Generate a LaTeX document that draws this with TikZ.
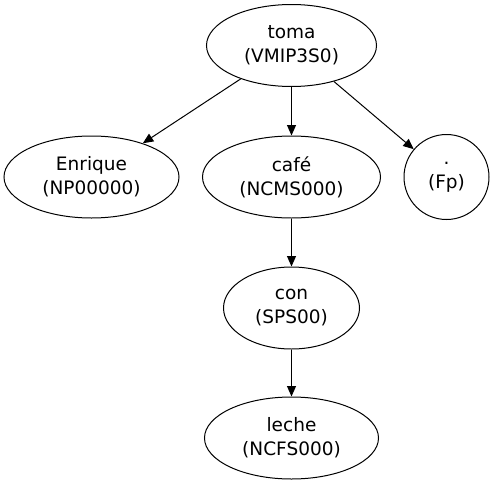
\documentclass[tikz,border=0pt]{standalone}
\usepackage{fontspec}
\setmainfont{DejaVu Sans}
\usetikzlibrary{positioning, arrows.meta, shapes.geometric}

\begin{document}
\begin{tikzpicture}[
  x=1pt, y=-1pt,
  font=\fontsize{18.5}{24}\selectfont,
  node distance=130pt, on grid,
  tok/.style={ellipse, draw, line width=1pt, inner sep=0pt, align=center},
  word/.style={tok, minimum width=172pt, minimum height=82pt},
  arr/.style={-{Triangle[length=10.5pt, width=9pt]}, line width=1pt}
]
\useasboundingbox (0,0) rectangle (493,485);
% ----- root -----
\node[word, minimum width=170pt] (toma) at (291.5,45.5) {toma\\(VMIP3S0)};
% ----- dependents -----
\node[word, below=131.5pt of toma, minimum width=178pt] (cafe) {café\\(NCMS000)};
\node[word, left=200pt of cafe, minimum width=175pt] (enrique) {Enrique\\(NP00000)};
\node[tok, right=155pt of cafe, minimum size=85pt] (punto) {.\\(Fp)};
\node[word, below=131pt of cafe, minimum width=136pt] (con) {con\\(SPS00)};
\node[word, below=130pt of con, minimum width=174pt] (leche) {leche\\(NCFS000)};
\draw[arr] (toma) -- (enrique);
\draw[arr] (toma) -- (cafe);
\draw[arr] (toma) -- (punto);
\draw[arr] (cafe) -- (con);
\draw[arr] (con) -- (leche);
\end{tikzpicture}
\end{document}
